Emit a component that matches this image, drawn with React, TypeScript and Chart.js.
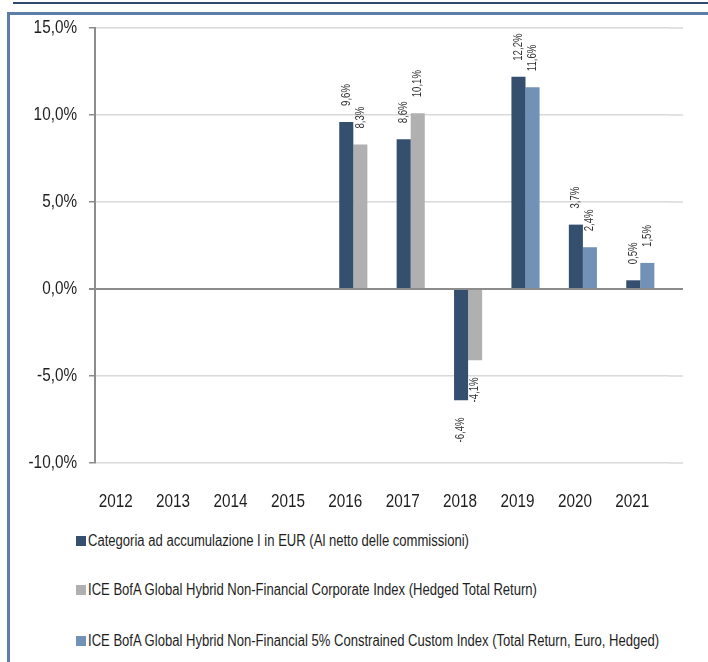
import React, { useEffect, useRef } from 'react';
import { Chart, registerables } from 'chart.js';

Chart.register(...registerables);

const categories = ['2012', '2013', '2014', '2015', '2016', '2017', '2018', '2019', '2020', '2021'];
const fundReturns = [null, null, null, null, 9.6, 8.6, -6.4, 12.2, 3.7, 0.5];
const corporateIndex = [null, null, null, null, 8.3, 10.1, -4.1, null, null, null];
const constrainedIndex = [null, null, null, null, null, null, null, 11.6, 2.4, 1.5];
const seriesNames = [
  'Categoria ad accumulazione I in EUR (Al netto delle commissioni)',
  'ICE BofA Global Hybrid Non-Financial Corporate Index (Hedged Total Return)',
  'ICE BofA Global Hybrid Non-Financial 5% Constrained Custom Index (Total Return, Euro, Hedged)',
];
const seriesColors = ['#35506f', '#b0b0b0', '#7191b6'];
const yMin = -10;
const yMax = 15;
const yStep = 5;

const FONT = "'Liberation Sans', Arial, sans-serif";
const SQUEEZE = 0.85;
const GRID = '#d9d9d9';
const AXIS = '#8c8c8c';
const TEXT = '#1e1e1e';

const fmt = (v: number) => v.toFixed(1).replace('.', ',') + '%';

const gridExtend = {
  id: 'gridExtend',
  beforeDatasetsDraw(chart: any) {
    const { ctx, chartArea, scales } = chart;
    const y = scales.y;
    ctx.save();
    y.ticks.forEach((t: any) => {
      const py = y.getPixelForValue(t.value);
      ctx.strokeStyle = t.value === 0 ? AXIS : GRID;
      ctx.lineWidth = t.value === 0 ? 2 : 1.5;
      ctx.beginPath();
      ctx.moveTo(chartArea.right, py);
      ctx.lineTo(chartArea.right + 14, py);
      ctx.stroke();
    });
    ctx.restore();
  },
};

// Tick labels drawn in a condensed style (horizontally squeezed), positioned via the scales
const condensedTicks = {
  id: 'condensedTicks',
  afterDraw(chart: any) {
    const { ctx, scales, chartArea } = chart;
    const x = scales.x;
    const y = scales.y;
    ctx.save();
    ctx.fillStyle = TEXT;
    ctx.font = `18px ${FONT}`;
    ctx.textBaseline = 'middle';
    y.ticks.forEach((t: any) => {
      const py = y.getPixelForValue(t.value);
      ctx.save();
      ctx.translate(chartArea.left - 18, py);
      ctx.scale(SQUEEZE, 1);
      ctx.textAlign = 'right';
      ctx.fillText(fmt(t.value), 0, 0);
      ctx.restore();
    });
    categories.forEach((label, i) => {
      const px = x.getPixelForTick(i) - 8;
      ctx.save();
      ctx.translate(px, chartArea.bottom + 39);
      ctx.scale(SQUEEZE, 1);
      ctx.textAlign = 'center';
      ctx.fillText(label, 0, 0);
      ctx.restore();
    });
    ctx.restore();
  },
};

const valueLabels = {
  id: 'valueLabels',
  afterDatasetsDraw(chart: any) {
    const { ctx } = chart;
    ctx.save();
    ctx.font = `12px ${FONT}`;
    ctx.fillStyle = '#333333';
    ctx.textBaseline = 'middle';
    chart.data.datasets.forEach((ds: any, i: number) => {
      const meta = chart.getDatasetMeta(i);
      meta.data.forEach((el: any, j: number) => {
        const v = ds.data[j];
        if (v === null || v === undefined) return;
        ctx.save();
        if (v >= 0) {
          ctx.translate(el.x, el.y - 16);
          ctx.rotate(-Math.PI / 2);
          ctx.textAlign = 'left';
        } else {
          ctx.translate(el.x, el.y + 17);
          ctx.rotate(-Math.PI / 2);
          ctx.textAlign = 'right';
        }
        ctx.scale(0.8, 1);
        ctx.fillText(fmt(v), 0, 0);
        ctx.restore();
      });
    });
    ctx.restore();
  },
};

export default function App() {
  const ref = useRef<HTMLCanvasElement | null>(null);

  useEffect(() => {
    document.body.style.margin = '0';
    if (!ref.current) return;
    const chart = new Chart(ref.current, {
      type: 'bar',
      data: {
        labels: categories,
        datasets: [
          { label: seriesNames[0], data: fundReturns, backgroundColor: seriesColors[0] },
          { label: seriesNames[1], data: corporateIndex, backgroundColor: seriesColors[1] },
          { label: seriesNames[2], data: constrainedIndex, backgroundColor: seriesColors[2] },
        ] as any,
      },
      options: {
        animation: false,
        responsive: false,
        maintainAspectRatio: false,
        datasets: {
          bar: { skipNull: true, categoryPercentage: 0.49, barPercentage: 1 },
        } as any,
        layout: { padding: { left: 0, right: 39, top: 28, bottom: 0 } },
        plugins: {
          legend: { display: false },
          tooltip: { enabled: false },
        },
        scales: {
          x: {
            grid: { display: false, drawTicks: false },
            border: { display: false },
            ticks: { display: false, autoSkip: false },
            afterFit: (s: any) => {
              s.height = 67;
            },
          },
          y: {
            min: yMin,
            max: yMax,
            ticks: {
              display: false,
              stepSize: yStep,
            },
            grid: {
              color: (c: any) => (c.tick && c.tick.value === 0 ? AXIS : GRID),
              lineWidth: (c: any) => (c.tick && c.tick.value === 0 ? 2 : 1.5),
              tickColor: AXIS,
              tickLength: 6,
              drawTicks: true,
            },
            border: { display: true, color: AXIS, width: 2 },
            afterFit: (s: any) => {
              s.width = 95;
            },
          },
        },
      },
      plugins: [gridExtend, valueLabels, condensedTicks],
    });
    return () => chart.destroy();
  }, []);

  const legendTops = [541, 590, 641];

  return (
    <div style={{ position: 'relative', width: 708, height: 662, overflow: 'hidden', background: '#fff' }}>
      <div style={{ position: 'absolute', left: 13, top: 2, width: 695, height: 2, background: '#2e4a6e' }} />
      <div
        style={{
          position: 'absolute',
          left: 7,
          top: 12,
          width: 720,
          height: 700,
          borderTop: '3px solid #5d7ea6',
          borderLeft: '3px solid #5d7ea6',
        }}
      />
      <canvas ref={ref} width={708} height={530} style={{ position: 'absolute', left: 0, top: 0, width: 708, height: 530 }} />
      {seriesNames.map((name, i) => (
        <div
          key={name}
          style={{
            position: 'absolute',
            left: 76,
            top: legendTops[i] - 10,
            height: 20,
            display: 'flex',
            alignItems: 'center',
            whiteSpace: 'nowrap',
          }}
        >
          <span style={{ display: 'inline-block', width: 10, height: 10, background: seriesColors[i], marginRight: 2 }} />
          <span
            style={{
              display: 'inline-block',
              fontFamily: FONT,
              fontSize: 16,
              color: TEXT,
              transform: 'scaleX(0.816)',
              transformOrigin: 'left center',
            }}
          >
            {name}
          </span>
        </div>
      ))}
    </div>
  );
}
